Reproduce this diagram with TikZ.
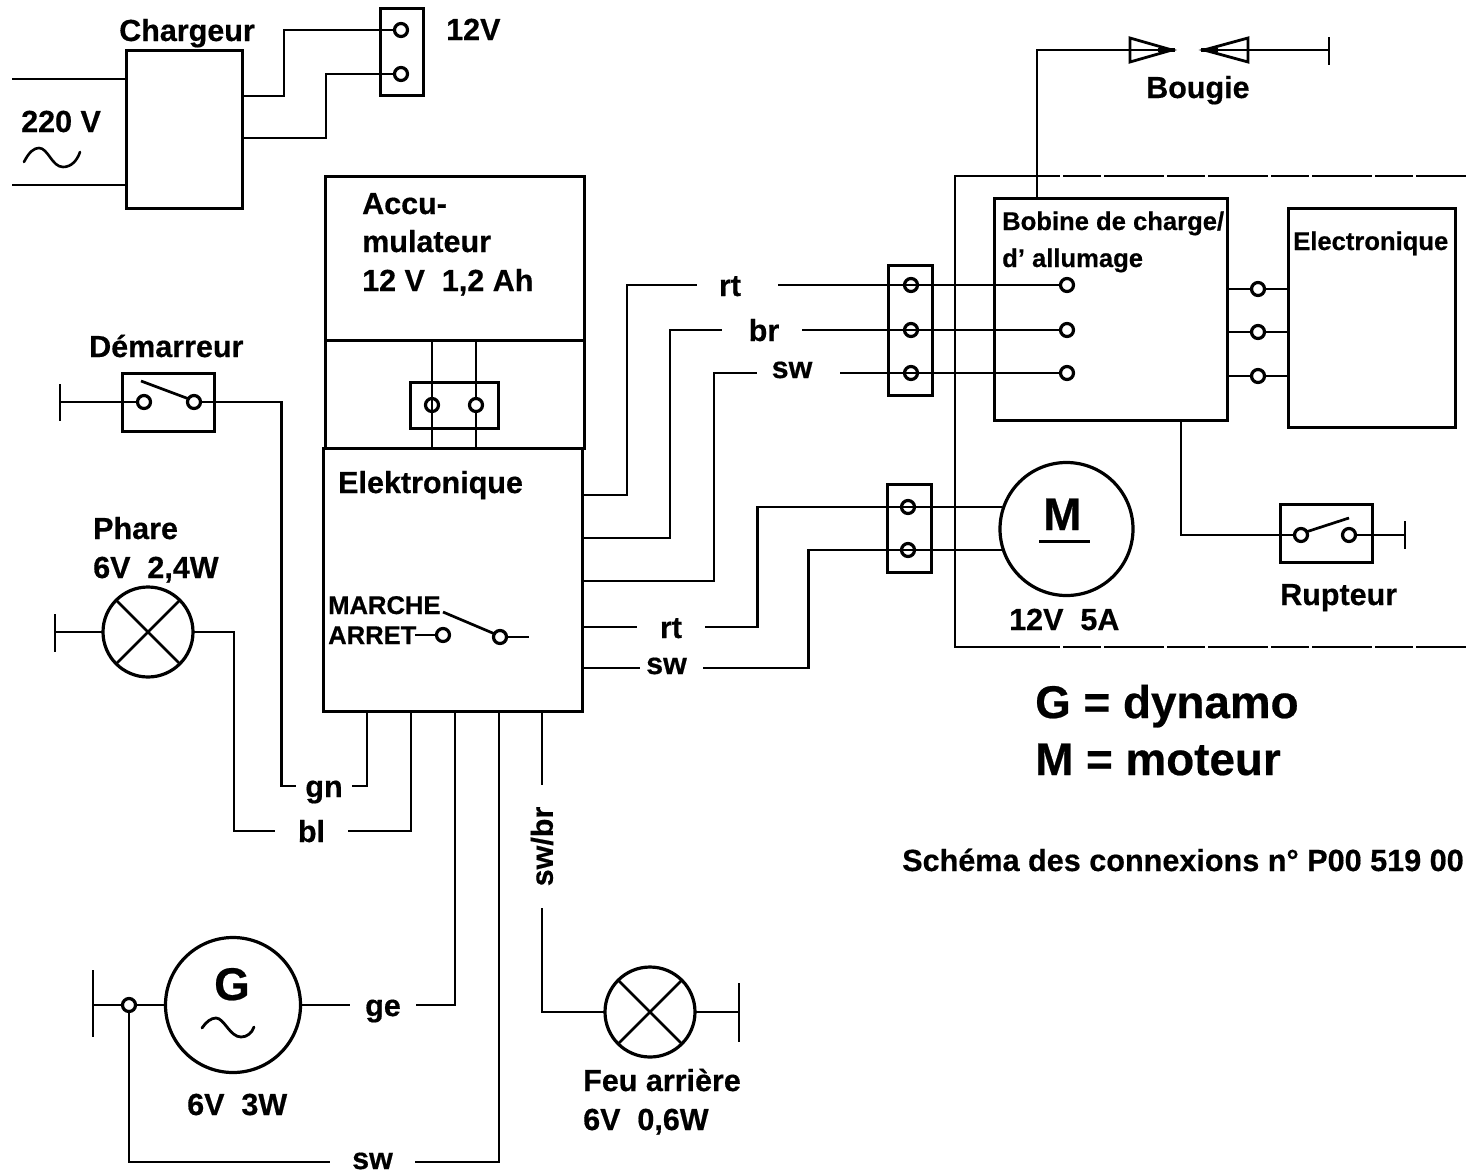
\documentclass[tikz,border=0pt]{standalone}
\usepackage{fontspec}
\setmainfont[BoldFeatures={FakeBold=0.5}]{Liberation Sans}
\newcommand{\fntA}{\fontsize{30.5}{36}\selectfont\bfseries}
\newcommand{\fntB}{\fontsize{25.6}{30}\selectfont\bfseries}
\newcommand{\fntC}{\fontsize{45.8}{54}\selectfont\bfseries}
\newcommand{\fntD}{\fontsize{30.6}{36}\selectfont\bfseries}
\tikzset{
  wire/.style={line width=2.7pt,black},
  boxx/.style={draw,line width=3pt,outer sep=0pt,inner sep=0pt,rectangle},
  term/.style={draw,circle,line width=3.2pt,fill=white,minimum size=13pt,inner sep=0pt,outer sep=0pt},
  rnd/.style={draw,circle,line width=3.2pt,inner sep=0pt,outer sep=0pt},
  lab/.style={font=\fntA,inner sep=0pt,anchor=base west},
  labs/.style={font=\fntB,inner sep=0pt,anchor=base west},
  labb/.style={font=\fntC,inner sep=0pt,anchor=base west},
  labw/.style={font=\fntA,inner sep=0pt,anchor=center,text height=22pt,text depth=0pt},
  labr/.style={font=\fntA,inner sep=0pt,anchor=center},
}
\begin{document}
\begin{tikzpicture}[x=1pt,y=-1pt]
\useasboundingbox (0,0) rectangle (1466,1175);
\fill[white] (0,0) rectangle (1466,1175);

% boxes
\node[boxx,minimum width=116pt,minimum height=158pt] (charger) at (184,129) {};
\node[boxx,minimum width=43pt,minimum height=87pt] (box12) at (401.5,51.5) {};
\node[boxx,minimum width=259pt,minimum height=164pt] (accu) at (454.5,258) {};
\node[boxx,minimum width=259pt,minimum height=108pt] (midb) at (454.5,394) {};
\node[boxx,minimum width=259pt,minimum height=263pt] (elek) at (452.5,579.5) {};
\node[boxx,minimum width=88pt,minimum height=46pt] (bat) at (454,405) {};
\node[boxx,minimum width=44pt,minimum height=130pt] (conn3) at (910,330) {};
\node[boxx,minimum width=44pt,minimum height=88pt] (conn2) at (909,528) {};
\node[boxx,minimum width=233pt,minimum height=222pt] (bobine) at (1110.5,309) {};
\node[boxx,minimum width=167pt,minimum height=219pt] (elec) at (1371.5,317.5) {};
\node[boxx,minimum width=92pt,minimum height=58pt] (rupt) at (1326,533) {};
\node[boxx,minimum width=92pt,minimum height=58pt] (dem) at (168,402) {};

% dashed frame
\draw[wire] (1000,176) -- (955,176) -- (955,647) -- (1000,647);
\draw[line width=2.7pt,dash pattern=on 60pt off 3pt on 38pt off 3pt] (1000,176) -- (1466,176);
\draw[line width=2.7pt,dash pattern=on 60pt off 3pt on 38pt off 3pt] (1000,647) -- (1466,647);

% round parts
\node[rnd,minimum size=90pt] (phare) at (148,632) {};
\node[rnd,minimum size=90pt] (lamp) at (650,1012) {};
\node[rnd,minimum size=135pt] (gen) at (233,1005) {};
\node[rnd,minimum size=133pt] (mot) at (1066.5,529) {};
\draw[wire] (phare.45) -- (phare.225) (phare.135) -- (phare.315);
\draw[wire] (lamp.45) -- (lamp.225) (lamp.135) -- (lamp.315);

% terminals
\node[term] (t12a) at (401,30) {};
\node[term] (t12b) at (401,74) {};
\node[term] (bat1) at (432,405) {};
\node[term] (bat2) at (476,405) {};
\node[term] (dt1) at (144,402) {};
\node[term] (dt2) at (194,402) {};
\node[term] (et1) at (443,635) {};
\node[term] (et2) at (500,637) {};
\node[term] (ct1) at (911,285) {};
\node[term] (ct2) at (911,330) {};
\node[term] (ct3) at (911,373) {};
\node[term] (bt1) at (1067,285) {};
\node[term] (bt2) at (1067,330) {};
\node[term] (bt3) at (1067,373) {};
\node[term] (ot1) at (1258,289) {};
\node[term] (ot2) at (1258,332) {};
\node[term] (ot3) at (1258,376) {};
\node[term] (mt1) at (908,507) {};
\node[term] (mt2) at (908,550) {};
\node[term] (rt1t) at (1301,535) {};
\node[term] (rt2t) at (1349,535) {};
\node[term] (gt) at (129,1005) {};

% wire labels (gap in the wire)
\node[labw,minimum width=81pt] (rtA) at (737.5,285) {rt\kern15pt};
\node[labw,minimum width=80pt] (brA) at (762,330) {\kern4pt br};
\node[labw,minimum width=83pt] (swA) at (798.5,373) {\raisebox{6pt}{sw}\kern13pt};
\node[labw,minimum width=68pt] (rtB) at (671,627) {rt};
\node[labw,minimum width=63pt] (swB) at (671.5,668) {\raisebox{5pt}{sw}\kern10pt};
\node[labw,minimum width=56pt] (gn) at (324,786) {gn};
\node[labw,minimum width=73pt] (bl) at (311.5,831) {bl};
\node[labw,minimum width=66pt] (ge) at (383,1005) {ge};
\node[labw,minimum width=85pt] (swC) at (372.5,1162) {\raisebox{4pt}{sw}};
\node[labr,minimum width=123pt,rotate=90] (swbr) at (542,846.5) {\raisebox{-6pt}{sw/br}};

% anchor points
\coordinate (acA) at (12,79);
\coordinate (acB) at (12,185);
\coordinate (chA) at (242,96);
\coordinate (chB) at (242,138);
\coordinate (e1) at (582,495);
\coordinate (e2) at (582,538);
\coordinate (e3) at (582,581);
\coordinate (e4) at (582,627);
\coordinate (e5) at (582,668);
\coordinate (s1) at (367,711);
\coordinate (s2) at (411,711);
\coordinate (s3) at (455,711);
\coordinate (s4) at (499,711);
\coordinate (s5) at (542,711);
\coordinate (barD) at (60,402);
\coordinate (barP) at (55,632);
\coordinate (barG) at (93,1005);
\coordinate (barL) at (739,1012);
\coordinate (barR) at (1405,535);
\coordinate (barB) at (1329,50);
\coordinate (spA) at (1175,50);
\coordinate (spB) at (1201,50);
\coordinate (bobT) at (1037,198);
\coordinate (bobB) at (1181,420);
\coordinate (aT) at (432,340);
\coordinate (aB) at (432,448);
\coordinate (bT) at (476,340);
\coordinate (bB) at (476,448);
\coordinate (arr) at (415,635);
\coordinate (sta) at (529,637);
\coordinate (mA) at (1002,507);
\coordinate (mB) at (1002,550);

% spark gap triangles
\draw[line width=2.8pt,line join=miter] (1130,38) -- (1172,50) -- (1130,62) -- cycle;
\draw[line width=2.8pt,line join=miter] (1248,38) -- (1204,50) -- (1248,62) -- cycle;

% connectors
\draw[wire] (acA) -- (acA -| charger.west);
\draw[wire] (acB) -- (acB -| charger.west);
\draw[wire] (chA) -- ++(42,0) |- (t12a.west);
\draw[wire] (chB) -- ++(84,0) |- (t12b.west);
\draw[wire] (aT) -- (aB) (bT) -- (bat2.north) (bat2.south) -- (bB);

\draw[wire] (e1) -- ++(45,0) |- (rtA.west);
\draw[wire] (e2) -- ++(88,0) |- (brA.west);
\draw[wire] (e3) -- ++(132,0) |- (swA.west);
\draw[wire] (rtA.east) -- (bt1.west);
\draw[wire] (brA.east) -- (bt2.west);
\draw[wire] (swA.east) -- (bt3.west);
\draw[wire] (e4) -- (rtB.west);
\draw[wire] (e5) -- (swB.west);
\draw[wire] (rtB.east) -- ++(52,0) |- (mA);
\draw[wire] (swB.east) -- ++(105,0) |- (mB);

\draw[wire] (bobine.east |- ot1) -- (ot1.west) (ot1.east) -- (ot1 -| elec.west);
\draw[wire] (bobine.east |- ot2) -- (ot2.west) (ot2.east) -- (ot2 -| elec.west);
\draw[wire] (bobine.east |- ot3) -- (ot3.west) (ot3.east) -- (ot3 -| elec.west);

\draw[wire] (bobT) |- (spA);
\draw[wire] (spB) -- (barB);
\draw[line width=4.5pt] (1158,50) -- (spA) (spB) -- (1218,50);
\draw[wire] (barB) ++(0,-13) -- ++(0,28);

\draw[wire] (bobB) |- (rt1t.west);
\draw[wire] (rt2t.east) -- (barR);
\draw[wire] (barR) ++(0,-14) -- ++(0,28);
\draw[wire] (rt1t.30) -- (1349,518);

\draw[wire] (barD) -- (dt1.west);
\draw[wire] (barD) ++(0,-18) -- ++(0,37);
\draw[wire] (141,381) -- (dt2.150);
\draw[wire] (dt2.east) -- ++(81,0) |- (gn.west);
\draw[wire] (gn.east) -| (s1);

\draw[wire] (barP) -- (phare.west);
\draw[wire] (barP) ++(0,-18) -- ++(0,38);
\draw[wire] (phare.east) -- ++(41,0) |- (bl.west);
\draw[wire] (bl.east) -| (s2);

\draw[wire] (s3) |- (ge.east);
\draw[wire] (ge.west) -- (gen.east);
\draw[wire] (barG) -- (gt.west);
\draw[wire] (gt.east) -- (gen.west);
\draw[wire] (barG) ++(0,-35) -- ++(0,67);
\draw[wire] (s4) |- (swC.east);
\draw[wire] (swC.west) -| (gt.south);

\draw[wire] (s5) -- (swbr.east);
\draw[wire] (swbr.west) |- (lamp.west);
\draw[wire] (lamp.east) -- (barL);
\draw[wire] (barL) ++(0,-29) -- ++(0,59);

\draw[wire] (arr) -- (et1.west);
\draw[wire] (443,612) -- (et2.150);
\draw[wire,line width=2pt] (et2.east) -- (sta);

% tildes
\draw[line width=2.6pt,line cap=round] (24,162) .. controls (29,152) and (34,148) .. (39,148) .. controls (48,148) and (52,167) .. (63,167) .. controls (71,167) and (77,161) .. (80,152);
\draw[line width=2.8pt,line cap=round] (202,1028) .. controls (206,1022) and (211,1018) .. (216,1018) .. controls (224,1018) and (230,1037) .. (241,1037) .. controls (247,1037) and (252,1033) .. (254,1027);
\draw[line width=3pt] (1039,541) -- (1090,541);

% texts
\node[lab] (tCh) at (119,41) {Chargeur};
\node[lab] (t12) at (446,40) {12V};
\node[lab] (t220) at (21,132) {220 V};
\node[lab] (tAc1) at (362,214) {Accu-};
\node[lab] (tAc2) at (362,252) {mulateur};
\node[lab] (tAc3) at (362,291) {12 V\ \ 1,2 Ah};
\node[lab] (tEl) at (338,493) {Elektronique};
\node[labs] (tMa) at (328,614) {MARCHE};
\node[labs] (tAr) at (328,644) {ARRET};
\node[lab] (tDe) at (89,357) {Démarreur};
\node[lab] (tPh1) at (93,539) {Phare};
\node[lab] (tPh2) at (93,578) {6V\ \ 2,4W};
\node[lab] (tBo) at (1146,98) {Bougie};
\node[labs] (tBb1) at (1002,230) {Bobine de charge/};
\node[labs] (tBb2) at (1002,267) {d' allumage};
\node[labs] (tEc) at (1293,250) {Electronique};
\node[labb] (tM) at (1043,530) {M};
\node[lab] (tMv) at (1009,630) {12V\ \ 5A};
\node[lab] (tRu) at (1280,605) {Rupteur};
\node[labb] (tG1) at (1035,718) {G = dynamo};
\node[labb] (tG2) at (1035,775) {M = moteur};
\node[inner sep=0pt,anchor=base west,font=\fntD] (tSc) at (902,871) {Schéma des connexions n° P00 519 00};
\node[labb] (tGg) at (214,1000) {G};
\node[lab] (tGv) at (187,1115) {6V\ \ 3W};
\node[lab] (tFe1) at (583,1091) {Feu arrière};
\node[lab] (tFe2) at (583,1130) {6V\ \ 0,6W};
\end{tikzpicture}
\end{document}
